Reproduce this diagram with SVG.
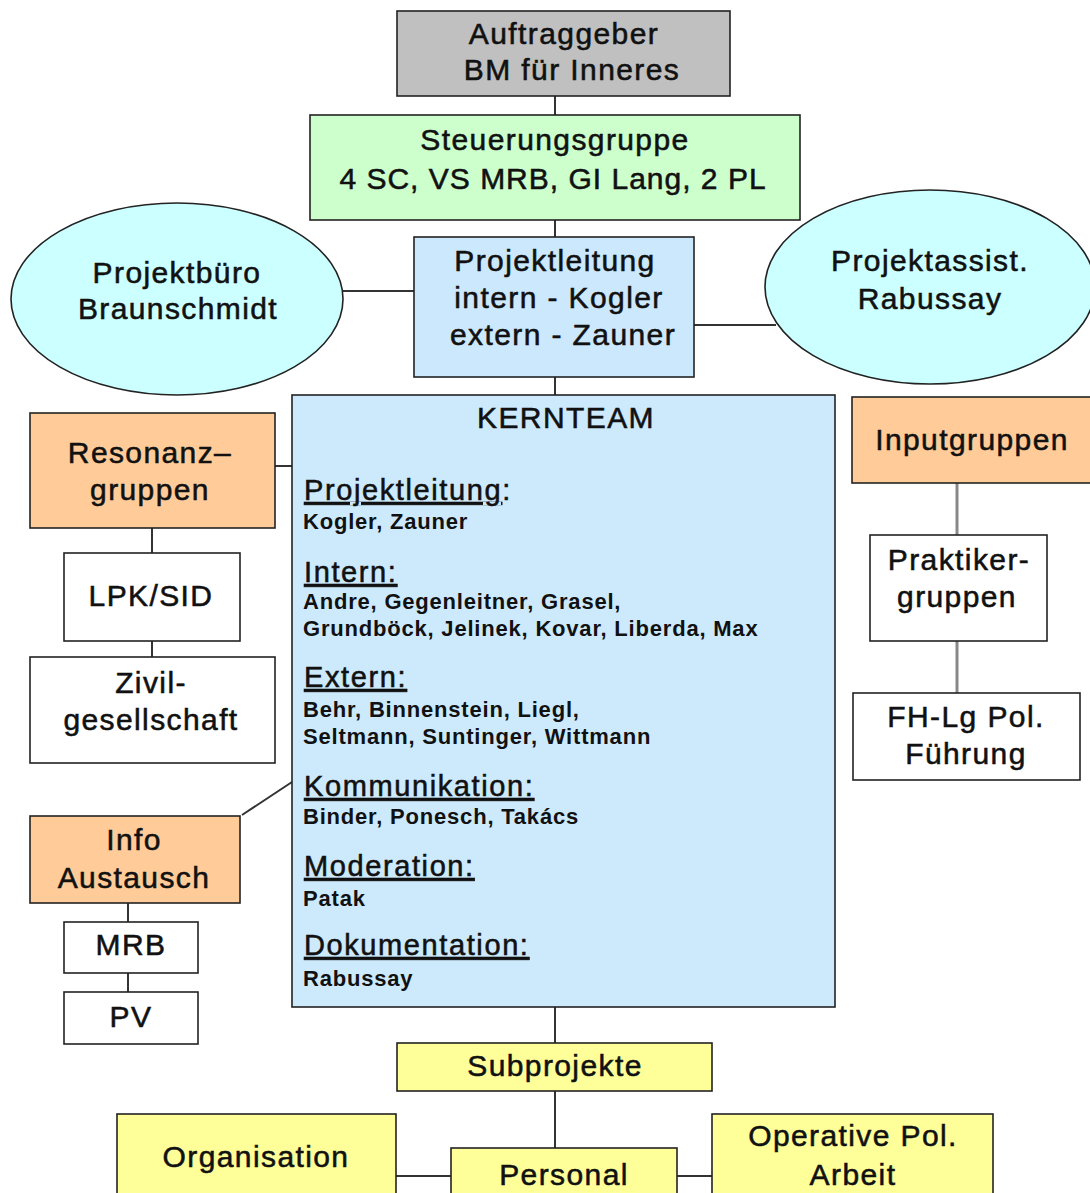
<svg xmlns="http://www.w3.org/2000/svg" width="1090" height="1193" viewBox="0 0 1090 1193">
<style>
text{font-family:"Liberation Sans",Arial,sans-serif;fill:#111;}
.t{font-size:30px;letter-spacing:1.4px;text-anchor:middle;stroke:#111;stroke-width:0.55px;}
.h{font-size:29px;letter-spacing:1.6px;stroke:#111;stroke-width:0.55px;}
.u{text-decoration:underline;}
.n{font-size:22px;font-weight:bold;letter-spacing:0.8px;}
.box{stroke:#222;stroke-width:1.6;}
.gray{fill:#c0c0c0;}
.green{fill:#ccffcc;}
.blue{fill:#cce8fc;}
.cyan{fill:#ccffff;}
.peach{fill:#ffcc99;}
.white{fill:#ffffff;}
.yellow{fill:#ffff99;}
.c line{stroke:#333;stroke-width:2;}
.c line.g{stroke:#888;stroke-width:3;}
</style>
<rect width="1090" height="1193" fill="#ffffff"/>
<g id="connectors" class="c">
<line x1="555" y1="96" x2="555" y2="115"/>
<line x1="555" y1="220" x2="555" y2="237"/>
<line x1="343" y1="291" x2="414" y2="291"/>
<line x1="694" y1="325" x2="776" y2="325"/>
<line x1="555" y1="377" x2="555" y2="395"/>
<line x1="275" y1="466" x2="292" y2="466"/>
<line x1="152" y1="528" x2="152" y2="553"/>
<line x1="152" y1="641" x2="152" y2="657"/>
<line x1="242" y1="815" x2="292" y2="782"/>
<line x1="128" y1="903" x2="128" y2="922"/>
<line x1="128" y1="973" x2="128" y2="992"/>
<line class="g" x1="957" y1="483" x2="957" y2="535"/>
<line class="g" x1="957" y1="641" x2="957" y2="693"/>
<line x1="555" y1="1007" x2="555" y2="1043"/>
<line x1="555" y1="1091" x2="555" y2="1148"/>
<line x1="396" y1="1176" x2="451" y2="1176"/>
<line x1="677" y1="1176" x2="712" y2="1176"/>
</g>
<g id="auftraggeber">
<rect class="box gray" x="397" y="11" width="333" height="85"/>
<text class="t" x="564" y="44">Auftraggeber</text>
<text class="t" x="572" y="80">BM für Inneres</text>
</g>
<g id="steuerungsgruppe">
<rect class="box green" x="310" y="115" width="490" height="105"/>
<text class="t" x="555" y="150">Steuerungsgruppe</text>
<text class="t" x="553" y="189" style="letter-spacing:1px">4 SC, VS MRB, GI Lang, 2 PL</text>
</g>
<g id="projektbuero">
<ellipse class="box cyan" cx="177" cy="299" rx="166" ry="96"/>
<text class="t" x="177" y="283">Projektbüro</text>
<text class="t" x="178" y="319">Braunschmidt</text>
</g>
<g id="projektleitung">
<rect class="box blue" x="414" y="237" width="280" height="140"/>
<text class="t" x="555" y="271">Projektleitung</text>
<text class="t" x="559" y="308">intern - Kogler</text>
<text class="t" x="563" y="345">extern - Zauner</text>
</g>
<g id="projektassist">
<ellipse class="box cyan" cx="930" cy="287" rx="165" ry="97"/>
<text class="t" x="930" y="271">Projektassist.</text>
<text class="t" x="930" y="309">Rabussay</text>
</g>
<g id="kernteam">
<rect class="box blue" x="292" y="395" width="543" height="612" style="fill:#cdeafd"/>
<text class="t" x="566" y="428">KERNTEAM</text>
<text class="h" x="304" y="500"><tspan class="u">Projektleitung</tspan>:</text>
<text class="n" x="303" y="529">Kogler, Zauner</text>
<text class="h u" x="304" y="582">Intern:</text>
<text class="n" x="303" y="609">Andre, Gegenleitner, Grasel,</text>
<text class="n" x="303" y="636">Grundböck, Jelinek, Kovar, Liberda, Max</text>
<text class="h u" x="304" y="687">Extern:</text>
<text class="n" x="303" y="717">Behr, Binnenstein, Liegl,</text>
<text class="n" x="303" y="744">Seltmann, Suntinger, Wittmann</text>
<text class="h u" x="304" y="796">Kommunikation:</text>
<text class="n" x="303" y="824">Binder, Ponesch, Takács</text>
<text class="h u" x="304" y="876">Moderation:</text>
<text class="n" x="303" y="906">Patak</text>
<text class="h u" x="304" y="955">Dokumentation:</text>
<text class="n" x="303" y="986">Rabussay</text>
</g>
<g id="resonanzgruppen">
<rect class="box peach" x="30" y="413" width="245" height="115"/>
<text class="t" x="150" y="463">Resonanz–</text>
<text class="t" x="150" y="500">gruppen</text>
</g>
<g id="lpksid">
<rect class="box white" x="64" y="553" width="176" height="88"/>
<text class="t" x="151" y="606">LPK/SID</text>
</g>
<g id="zivilgesellschaft">
<rect class="box white" x="30" y="657" width="245" height="106"/>
<text class="t" x="151" y="693">Zivil-</text>
<text class="t" x="151" y="730">gesellschaft</text>
</g>
<g id="infoaustausch">
<rect class="box peach" x="30" y="816" width="210" height="87"/>
<text class="t" x="134" y="850">Info</text>
<text class="t" x="134" y="888">Austausch</text>
</g>
<g id="mrb">
<rect class="box white" x="64" y="922" width="134" height="51"/>
<text class="t" x="131" y="955">MRB</text>
</g>
<g id="pv">
<rect class="box white" x="64" y="992" width="134" height="52"/>
<text class="t" x="131" y="1027">PV</text>
</g>
<g id="inputgruppen">
<rect class="box peach" x="852" y="397" width="240" height="86"/>
<text class="t" x="972" y="450">Inputgruppen</text>
</g>
<g id="praktikergruppen">
<rect class="box white" x="870" y="535" width="177" height="106"/>
<text class="t" x="959" y="570">Praktiker-</text>
<text class="t" x="957" y="607">gruppen</text>
</g>
<g id="fhlg">
<rect class="box white" x="853" y="693" width="227" height="87"/>
<text class="t" x="966" y="727">FH-Lg Pol.</text>
<text class="t" x="966" y="764">Führung</text>
</g>
<g id="subprojekte">
<rect class="box yellow" x="397" y="1043" width="315" height="48"/>
<text class="t" x="555" y="1076">Subprojekte</text>
</g>
<g id="organisation">
<rect class="box yellow" x="117" y="1114" width="279" height="90"/>
<text class="t" x="256" y="1167">Organisation</text>
</g>
<g id="personal">
<rect class="box yellow" x="451" y="1148" width="226" height="60"/>
<text class="t" x="564" y="1185">Personal</text>
</g>
<g id="operative">
<rect class="box yellow" x="712" y="1114" width="281" height="90"/>
<text class="t" x="853" y="1146">Operative Pol.</text>
<text class="t" x="853" y="1185">Arbeit</text>
</g>
</svg>
